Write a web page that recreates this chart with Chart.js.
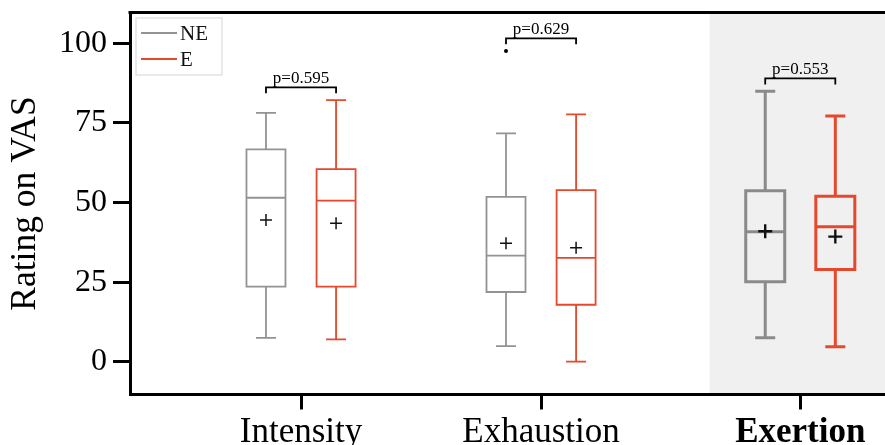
<!DOCTYPE html>
<html><head><meta charset="utf-8">
<script src="https://cdn.jsdelivr.net/npm/chart.js@4"></script>
<style>html,body{margin:0;padding:0;background:#fff;overflow:hidden}#wrap{width:885px;height:445px}</style>
</head><body><div id="wrap"><canvas id="c" width="885" height="445"></canvas></div>
<script>
// ---- data ----
const categories = ['Intensity', 'Exhaustion', 'Exertion'];
const categoryPos = [0, 1, 2.08];
const seriesNames = ['NE', 'E'];
const neMin    = [7.5, 4.9, 7.5];
const neQ1     = [23.6, 21.9, 25.1];
const neMedian = [51.5, 33.3, 40.8];
const neQ3     = [66.7, 51.8, 53.7];
const neMax    = [78.2, 71.7, 85.0];
const neMean   = [44.5, 37.2, 41.0];
const neOutliers = [[], [97.6], []];
const eMin    = [7.0, 0.0, 4.7];
const eQ1     = [23.6, 17.9, 29.0];
const eMedian = [50.6, 32.6, 42.4];
const eQ3     = [60.5, 53.9, 52.0];
const eMax    = [82.2, 77.7, 77.2];
const eMean   = [43.5, 35.8, 39.3];
const eOutliers = [[], [], []];
const pValues = ['0.595', '0.629', '0.553'];
const yTicks = [0, 25, 50, 75, 100];
const highlighted = 'Exertion';

// ---- styling ----
const FONT = "'Liberation Serif', 'DejaVu Serif', serif";
const colors = ['#939393', '#e5482c'];
const groupOffset = 0.146;   // half distance between paired boxes (x units)
const boxHalfPx = 19.5;
const capHalfPx = 10;
const X_MIN = -0.7125, X_MAX = 2.433;

const series = [
  {min: neMin, q1: neQ1, med: neMedian, q3: neQ3, max: neMax, mean: neMean, out: neOutliers},
  {min: eMin, q1: eQ1, med: eMedian, q3: eQ3, max: eMax, mean: eMean, out: eOutliers}
];
const isHi = i => categories[i] === highlighted;

const meanDatasets = series.map((s, k) => ({
  label: seriesNames[k] + ' mean',
  data: s.mean.map((m, i) => ({x: categoryPos[i] + (k === 0 ? -groupOffset : groupOffset), y: m})),
  pointStyle: 'cross',
  pointRadius: ctx => isHi(ctx.dataIndex) ? 7 : 6,
  pointBorderWidth: ctx => isHi(ctx.dataIndex) ? 2.4 : 1.5,
  pointBorderColor: '#111',
  pointBackgroundColor: '#111',
  showLine: false
}));
const outlierDatasets = series.map((s, k) => ({
  label: seriesNames[k] + ' outliers',
  data: s.out.flatMap((arr, i) => arr.map(v => ({x: categoryPos[i] + (k === 0 ? -groupOffset : groupOffset), y: v}))),
  pointStyle: 'circle', pointRadius: 2, pointBorderWidth: 0,
  pointBackgroundColor: '#000', showLine: false
}));

const zeroPad = s => { s.paddingLeft = 0; s.paddingRight = 0; s.paddingTop = 0; s.paddingBottom = 0; };

const boxPlugin = {
  id: 'boxes',
  beforeDraw(chart) {
    const {ctx, chartArea: a, scales: {x}} = chart;
    const hiIdx = categories.indexOf(highlighted);
    const start = x.getPixelForValue(categoryPos[hiIdx - 1] + 0.65 * (categoryPos[hiIdx] - categoryPos[hiIdx - 1]));
    ctx.save();
    ctx.fillStyle = '#f0f0f0';
    ctx.fillRect(start, a.top, a.right - start, a.bottom - a.top);
    ctx.restore();
  },
  beforeDatasetsDraw(chart) {
    const {ctx, scales: {x, y}} = chart;
    ctx.save();
    series.forEach((s, k) => {
      categories.forEach((c, i) => {
        const cx = x.getPixelForValue(categoryPos[i] + (k === 0 ? -groupOffset : groupOffset));
        const lw = isHi(i) ? 3 : 1.8;
        ctx.strokeStyle = isHi(i) && k === 0 ? '#8a8a8a' : colors[k];
        ctx.lineWidth = lw;
        const yq1 = y.getPixelForValue(s.q1[i]), yq3 = y.getPixelForValue(s.q3[i]);
        const ymed = y.getPixelForValue(s.med[i]);
        const ymin = y.getPixelForValue(s.min[i]), ymax = y.getPixelForValue(s.max[i]);
        ctx.beginPath();
        ctx.rect(cx - boxHalfPx, yq3, 2 * boxHalfPx, yq1 - yq3);
        ctx.moveTo(cx - boxHalfPx, ymed); ctx.lineTo(cx + boxHalfPx, ymed);
        ctx.moveTo(cx, yq3); ctx.lineTo(cx, ymax);
        ctx.moveTo(cx, yq1); ctx.lineTo(cx, ymin);
        ctx.moveTo(cx - capHalfPx, ymax); ctx.lineTo(cx + capHalfPx, ymax);
        ctx.moveTo(cx - capHalfPx, ymin); ctx.lineTo(cx + capHalfPx, ymin);
        ctx.stroke();
      });
    });
    ctx.restore();
  },
  afterDraw(chart) {
    const {ctx, chartArea: a, scales: {x, y}} = chart;
    ctx.save();
    // top frame line
    ctx.strokeStyle = '#000'; ctx.lineWidth = 3;
    ctx.beginPath(); ctx.moveTo(a.left - 1.5, a.top); ctx.lineTo(a.right, a.top); ctx.stroke();
    // significance brackets
    categories.forEach((c, i) => {
      const top = Math.max(neMax[i], eMax[i], ...neOutliers[i], ...eOutliers[i]) + 4;
      const yb = y.getPixelForValue(top);
      const x1 = x.getPixelForValue(categoryPos[i] - groupOffset);
      const x2 = x.getPixelForValue(categoryPos[i] + groupOffset);
      ctx.strokeStyle = '#000'; ctx.lineWidth = 1.8;
      ctx.beginPath();
      ctx.moveTo(x1, yb + 6); ctx.lineTo(x1, yb); ctx.lineTo(x2, yb); ctx.lineTo(x2, yb + 6);
      ctx.stroke();
      ctx.fillStyle = '#000';
      ctx.font = '17px ' + FONT;
      ctx.textAlign = 'center'; ctx.textBaseline = 'alphabetic';
      ctx.fillText('p=' + pValues[i], (x1 + x2) / 2, yb - 4);
    });
    // legend
    const lx = a.left + 6, ly = a.top + 5.5;
    ctx.fillStyle = '#fff'; ctx.strokeStyle = '#dcdcdc'; ctx.lineWidth = 1.2;
    ctx.fillRect(lx, ly, 86, 57); ctx.strokeRect(lx, ly, 86, 57);
    seriesNames.forEach((n, k) => {
      const yy = ly + 15 + k * 26;
      ctx.strokeStyle = colors[k]; ctx.lineWidth = 2;
      ctx.beginPath(); ctx.moveTo(lx + 5, yy); ctx.lineTo(lx + 41, yy); ctx.stroke();
      ctx.fillStyle = '#111'; ctx.font = '21px ' + FONT;
      ctx.textAlign = 'left'; ctx.textBaseline = 'middle';
      ctx.fillText(n, lx + 44, yy + 1);
    });
    ctx.restore();
  }
};

new Chart(document.getElementById('c'), {
  type: 'scatter',
  data: {datasets: [...meanDatasets, ...outlierDatasets]},
  options: {
    responsive: false, animation: false, devicePixelRatio: 1,
    layout: {autoPadding: false, padding: {top: 12.5, right: 0, bottom: 0, left: 0}},
    plugins: {legend: {display: false}, tooltip: {enabled: false}},
    scales: {
      x: {
        type: 'linear', min: X_MIN, max: X_MAX,
        afterBuildTicks: s => { s.ticks = categoryPos.map(v => ({value: v})); },
        afterFit: s => { s.height = 50.5; zeroPad(s); },
        ticks: {
          autoSkip: false, maxRotation: 0, color: '#000', padding: 2,
          callback: (v, i) => categories[i],
          font: ctx => ({family: FONT, size: 35, weight: categories[ctx.index] === highlighted ? 'bold' : 'normal'})
        },
        grid: {drawOnChartArea: false, drawTicks: true, tickLength: 15, tickWidth: 3, tickColor: '#000'},
        border: {display: true, width: 3, color: '#000'}
      },
      y: {
        min: -10.3, max: 109.7,
        afterBuildTicks: s => { s.ticks = yTicks.map(v => ({value: v})); },
        afterFit: s => { s.width = 130; zeroPad(s); },
        ticks: {color: '#000', padding: 6, font: {family: FONT, size: 32}},
        grid: {drawOnChartArea: false, drawTicks: true, tickLength: 17, tickWidth: 3, tickColor: '#000'},
        border: {display: true, width: 3, color: '#000'},
        title: {display: true, text: 'Rating on VAS', color: '#000', font: {family: FONT, size: 35.5}, padding: {top: 4, bottom: 0}}
      }
    }
  },
  plugins: [boxPlugin]
});
</script></body></html>
